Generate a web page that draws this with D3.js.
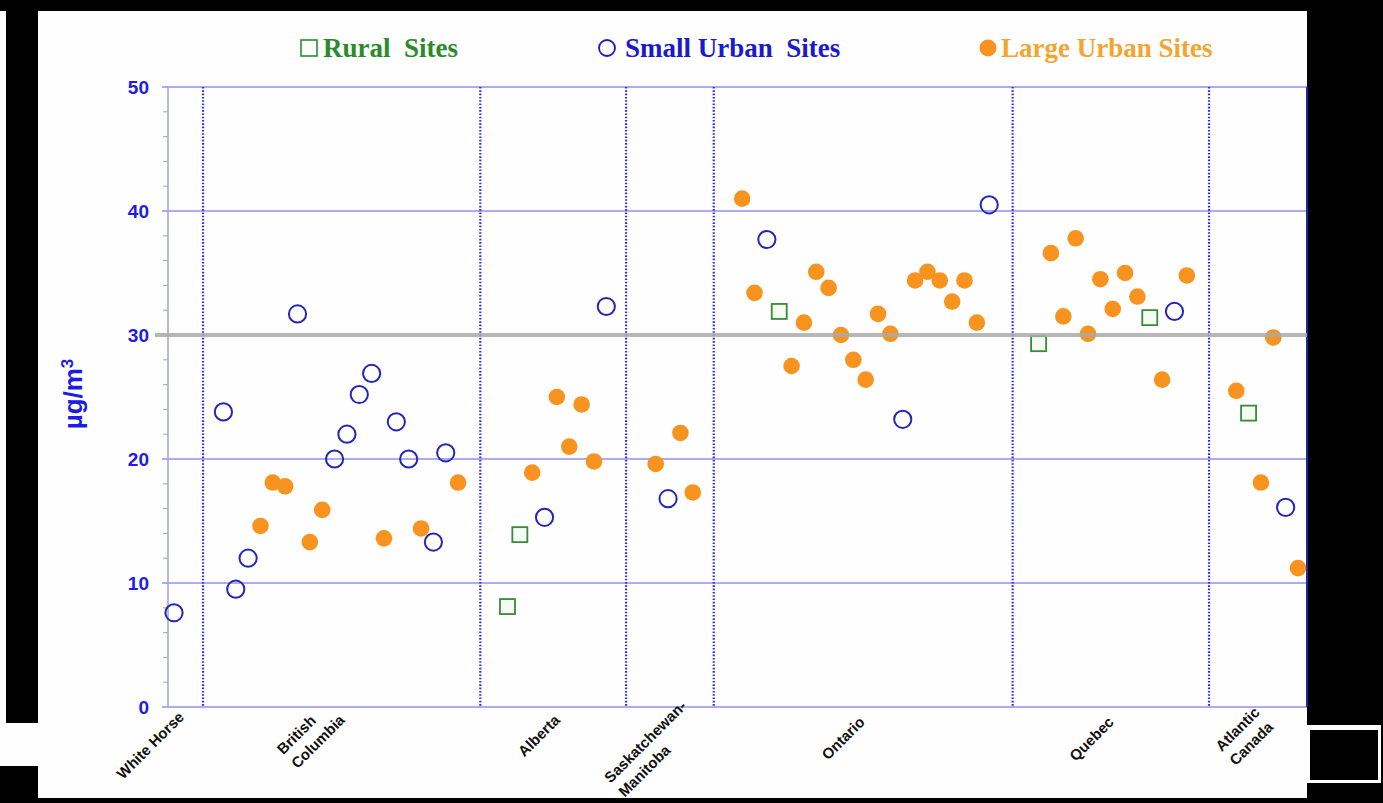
<!DOCTYPE html>
<html>
<head>
<meta charset="utf-8">
<script src="https://cdn.jsdelivr.net/npm/d3@7"></script>
<style>
  html, body { margin: 0; padding: 0; background: #000; }
  svg { display: block; }
</style>
</head>
<body>
<svg id="chart" width="1383" height="803"></svg>
<script>
// ---------------- DATA ----------------
// Regions (category names, label lines) and the site-index range they cover
const regionNames = [["White Horse"], ["British", "Columbia"], ["Alberta"], ["Saskatchewan-", "Manitoba"], ["Ontario"], ["Quebec"], ["Atlantic", "Canada"]];
const regionFirstSite = [0, 4, 27, 39, 46, 70, 86];
const regionLastSite  = [0, 23, 35, 42, 66, 82, 91];
// Boundaries between regions (in site-index units)
const regionBoundaries = [2.35, 24.8, 36.6, 43.7, 67.9, 83.8];

// Series: [site index, PM2.5 value in ug/m3]
const ruralSites = [[27, 8.1], [28, 13.9], [49, 31.9], [70, 29.3], [79, 31.4], [87, 23.7]];
const smallUrbanSites = [
  [0, 7.6],
  [4, 23.8], [5, 9.5], [6, 12.0], [10, 31.7], [13, 20.0], [14, 22.0], [15, 25.2], [16, 26.9], [18, 23.0], [19, 20.0], [21, 13.3], [22, 20.5],
  [30, 15.3], [35, 32.3],
  [40, 16.8],
  [48, 37.7], [59, 23.2], [66, 40.5],
  [81, 31.9],
  [90, 16.1]
];
const largeUrbanSites = [
  [7, 14.6], [8, 18.1], [9, 17.8], [11, 13.3], [12, 15.9], [17, 13.6], [20, 14.4], [23, 18.1],
  [29, 18.9], [31, 25.0], [32, 21.0], [33, 24.4], [34, 19.8],
  [39, 19.6], [41, 22.1], [42, 17.3],
  [46, 41.0], [47, 33.4], [50, 27.5], [51, 31.0], [52, 35.1], [53, 33.8], [54, 30.0], [55, 28.0], [56, 26.4], [57, 31.7], [58, 30.1],
  [60, 34.4], [61, 35.1], [62, 34.4], [63, 32.7], [64, 34.4], [65, 31.0],
  [71, 36.6], [72, 31.5], [73, 37.8], [74, 30.1], [75, 34.5], [76, 32.1], [77, 35.0], [78, 33.1], [80, 26.4], [82, 34.8],
  [86, 25.5], [88, 18.1], [89, 29.8], [91, 11.2]
];
const yTickValues = [0, 10, 20, 30, 40, 50];
const yMinorTicks = d3.range(0, 50.01, 2).filter(v => v % 10 !== 0);
const standardValue = 30;
const legendLabels = ["Rural  Sites", "Small Urban  Sites", "Large Urban Sites"];
const yTitle = "µg/m";
const yTitleSup = "3";

// ---------------- LAYOUT ----------------
const W = 1383, H = 803;
const plot = { left: 168, right: 1307, top: 87, bottom: 707 };
const svg = d3.select("#chart");

const x = d3.scaleLinear().domain([-0.486, 91.73]).range([plot.left, plot.right]);
const y = d3.scaleLinear().domain([0, 50]).range([plot.bottom, plot.top]);

// Frame (black scan borders)
svg.append("rect").attr("x", 0).attr("y", 0).attr("width", W).attr("height", H).attr("fill", "#000");
svg.append("rect").attr("x", 0).attr("y", 11).attr("width", 6).attr("height", 712).attr("fill", "#fdfdfd");
svg.append("rect").attr("x", 38).attr("y", 11).attr("width", plot.right - 38).attr("height", 787).attr("fill", "#fefefe");
svg.append("rect").attr("x", 0).attr("y", 723).attr("width", 40).attr("height", 43).attr("fill", "#fefefe");
svg.append("rect").attr("x", 1307).attr("y", 725).attr("width", 74).attr("height", 58).attr("fill", "#fefefe");
svg.append("rect").attr("x", 1310).attr("y", 730).attr("width", 68).attr("height", 50).attr("fill", "#000");

// Horizontal gridlines
const gridColor = "#8f8ff5";
svg.append("g").selectAll("line").data(yTickValues.filter(v => v !== standardValue)).join("line")
  .attr("x1", plot.left - 6).attr("x2", plot.right)
  .attr("y1", d => y(d)).attr("y2", d => y(d))
  .attr("stroke", gridColor).attr("stroke-width", 1.6);

// Minor ticks on y axis
svg.append("g").selectAll("line").data(yMinorTicks).join("line")
  .attr("x1", plot.left - 5).attr("x2", plot.left)
  .attr("y1", d => y(d)).attr("y2", d => y(d))
  .attr("stroke", "#a0a0c8").attr("stroke-width", 1);

// Y axis line
svg.append("line").attr("x1", plot.left).attr("x2", plot.left).attr("y1", plot.top).attr("y2", plot.bottom)
  .attr("stroke", "#a3a3cc").attr("stroke-width", 1.5);
// Right border
svg.append("line").attr("x1", plot.right).attr("x2", plot.right).attr("y1", plot.top).attr("y2", plot.bottom)
  .attr("stroke", "#2222aa").attr("stroke-width", 2);

// Region boundaries (dotted)
svg.append("g").selectAll("line").data(regionBoundaries).join("line")
  .attr("x1", d => x(d)).attr("x2", d => x(d))
  .attr("y1", plot.top).attr("y2", plot.bottom)
  .attr("stroke", "#2e2ee0").attr("stroke-width", 2.2)
  .attr("stroke-dasharray", "1.6,1.7");

// Y tick labels
svg.append("g").selectAll("text").data(yTickValues).join("text")
  .attr("x", 149).attr("y", d => y(d)).attr("dy", "0.36em")
  .attr("text-anchor", "end")
  .attr("font-family", "Liberation Sans, Arial, sans-serif").attr("font-weight", "bold").attr("font-size", 19)
  .attr("fill", "#1c1ce6")
  .text(d => d);

// Y axis title
const yt = svg.append("text")
  .attr("transform", "translate(82,394) rotate(-90)")
  .attr("text-anchor", "middle")
  .attr("font-family", "Liberation Sans, Arial, sans-serif").attr("font-weight", "bold").attr("font-size", 26)
  .attr("fill", "#1c1ce6");
yt.append("tspan").text(yTitle);
yt.append("tspan").attr("dy", "-0.55em").attr("font-size", 17).text(yTitleSup);

// Markers
const gPts = svg.append("g");
gPts.selectAll("circle.large").data(largeUrbanSites).join("circle")
  .attr("class", "large")
  .attr("cx", d => x(d[0])).attr("cy", d => y(d[1])).attr("r", 8.3)
  .attr("fill", "#f7931e");
gPts.selectAll("circle.small").data(smallUrbanSites).join("circle")
  .attr("class", "small")
  .attr("cx", d => x(d[0])).attr("cy", d => y(d[1])).attr("r", 8.6)
  .attr("fill", "none").attr("stroke", "#2626b4").attr("stroke-width", 2);
gPts.selectAll("rect.rural").data(ruralSites).join("rect")
  .attr("class", "rural")
  .attr("x", d => x(d[0]) - 7.5).attr("y", d => y(d[1]) - 7.5).attr("width", 15).attr("height", 15)
  .attr("fill", "#f3fbf3").attr("stroke", "#3a8a3a").attr("stroke-width", 1.8);

// Standard line at 30 (drawn over markers, slightly translucent)
svg.append("line")
  .attr("x1", 155).attr("x2", plot.right)
  .attr("y1", y(standardValue)).attr("y2", y(standardValue))
  .attr("stroke", "#aaaaaa").attr("stroke-width", 4).attr("stroke-opacity", 0.85);

// Region labels (rotated -45°)
const lineH = 20, c45 = Math.SQRT1_2;
const labelNudge = [[6, 0], [0, 3], [-1, 3], [8, -11], [-5, 5], [-3, 5], [2, 10]];
regionNames.forEach((lines, i) => {
  const center = (regionFirstSite[i] + regionLastSite[i]) / 2;
  const t = svg.append("text")
    .attr("font-family", "Liberation Sans, Arial, sans-serif").attr("font-weight", "bold").attr("font-size", 15)
    .attr("fill", "#111");
  lines.forEach((ln, k) => {
    t.append("tspan").attr("x", 0).attr("dy", k === 0 ? 0 : lineH).text(ln);
  });
  // find line whose end is rightmost on screen
  let best = null;
  t.selectAll("tspan").each(function(_, k) {
    const w = this.getComputedTextLength();
    const reach = w + k * lineH;
    if (!best || reach > best.reach) best = { reach, w, k };
  });
  const ax = x(center) + 5 + labelNudge[i][0], ay = 718 + labelNudge[i][1];
  const sx = ax - c45 * (best.w + best.k * lineH);
  const sy = ay - c45 * (best.k * lineH - best.w);
  t.attr("transform", `translate(${sx},${sy}) rotate(-45)`);
});

// Legend
const legY = 48;
const legFont = "Liberation Serif, 'Times New Roman', serif";
svg.append("rect").attr("x", 301).attr("y", legY - 8).attr("width", 16).attr("height", 16)
  .attr("fill", "none").attr("stroke", "#2f8a2f").attr("stroke-width", 1.6);
svg.append("text").attr("x", 323).attr("y", 57).text(legendLabels[0])
  .attr("font-family", legFont).attr("font-weight", "bold").attr("font-size", 27).attr("fill", "#2b8a2b")
  .style("white-space", "pre");
svg.append("circle").attr("cx", 607).attr("cy", legY).attr("r", 8)
  .attr("fill", "none").attr("stroke", "#1a1acc").attr("stroke-width", 1.8);
svg.append("text").attr("x", 625).attr("y", 57).text(legendLabels[1])
  .attr("font-family", legFont).attr("font-weight", "bold").attr("font-size", 27).attr("fill", "#1a1acc")
  .style("white-space", "pre");
svg.append("circle").attr("cx", 988).attr("cy", legY).attr("r", 8.5).attr("fill", "#f7931e");
svg.append("text").attr("x", 1001).attr("y", 57).text(legendLabels[2])
  .attr("font-family", legFont).attr("font-weight", "bold").attr("font-size", 27).attr("fill", "#f2a531");
</script>
</body>
</html>
